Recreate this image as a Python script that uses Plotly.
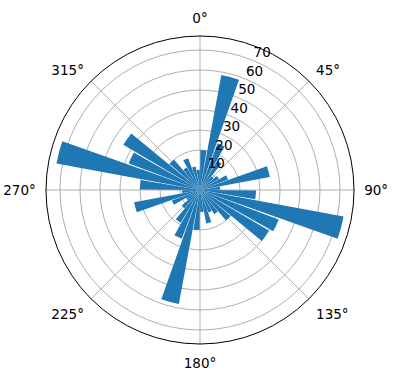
import plotly.graph_objects as go

# Bar directions (compass degrees, clockwise from north) and lengths
directions = [5, 15, 25, 35, 45, 55, 65, 75, 85, 95, 105, 115, 125, 135, 145, 155, 165, 175,
              185, 195, 205, 215, 225, 235, 245, 255, 265, 275, 285, 295, 305, 315, 325, 335, 345, 355]
lengths = [20, 58.5, 25, 17, 9, 11, 15, 35.5, 10, 28, 73, 42, 40, 20, 14, 12, 17, 11,
           20, 58, 26, 19, 12, 8, 15, 33.5, 9, 30, 73, 38, 44.5, 20, 13, 17, 12, 10]
bar_width = 9

angle_ticks = [0, 45, 90, 135, 180, 225, 270, 315]
angle_labels = [f"{a}°" for a in angle_ticks]
radial_ticks = [10, 20, 30, 40, 50, 60, 70]
radial_label_angle = 22.5

fig = go.Figure()
fig.add_trace(go.Barpolar(
    theta=directions, r=lengths, width=[bar_width] * len(directions),
    marker=dict(color="#1f77b4", line=dict(width=0)),
    hoverinfo="r+theta",
))
# radial tick labels, placed like matplotlib (along 22.5 deg, above-right of the ray)
fig.add_trace(go.Scatterpolar(
    r=radial_ticks, theta=[radial_label_angle] * len(radial_ticks),
    mode="text", text=[str(v) for v in radial_ticks],
    textposition="top right",
    textfont=dict(family="DejaVu Sans", size=13.5, color="black"),
    cliponaxis=False, hoverinfo="skip",
))

W, H = 396, 380
cx, cy, R = 200, 190, 154
fig.update_layout(
    width=W, height=H,
    margin=dict(l=0, r=0, t=0, b=0),
    paper_bgcolor="white",
    showlegend=False,
    font=dict(family="DejaVu Sans", size=13.5, color="black"),
    polar=dict(
        domain=dict(x=[(cx - R) / W, (cx + R) / W], y=[(H - cy - R) / H, (H - cy + R) / H]),
        bgcolor="white",
        bargap=0,
        angularaxis=dict(
            rotation=90, direction="clockwise",
            tickmode="array", tickvals=angle_ticks, ticktext=angle_labels,
            showline=True, linecolor="black", linewidth=1,
            showgrid=True, gridcolor="#b0b0b0", gridwidth=0.8,
            ticks="outside", ticklen=7, tickcolor="rgba(0,0,0,0)",
        ),
        radialaxis=dict(
            range=[0, 77], angle=67.5,
            tickmode="array", tickvals=radial_ticks,
            showline=False, ticks="", showticklabels=False,
            showgrid=True, gridcolor="#b0b0b0", gridwidth=0.8,
        ),
    ),
)
fig.write_html("out.html")
